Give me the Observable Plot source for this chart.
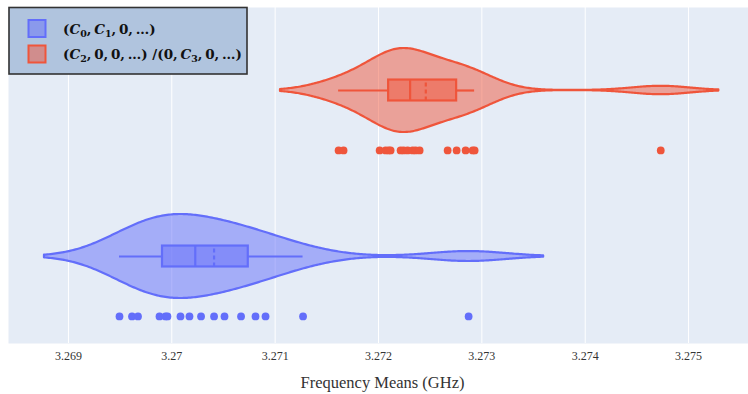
<!DOCTYPE html>
<html>
<head>
<meta charset="utf-8">
<script src="https://cdn.jsdelivr.net/npm/d3@7"></script>
<script src="https://cdn.jsdelivr.net/npm/@observablehq/plot@0.6"></script>
<style>
  html, body { margin: 0; padding: 0; background: #fff; }
  #chart svg { display: block; }
</style>
</head>
<body>
<div id="chart"></div>
<script>
// ---------- data ----------
const seriesNames = ["(C0,C1,0,...)", "(C2,0,0,...)/(0,C3,0,...)"];
const seriesColors = ["#636EFA", "#EF553B"];
const seriesPos = [0, 1];
const blueValues = [3.269494, 3.269615, 3.269673, 3.269881, 3.269939, 3.269958, 3.270084, 3.270171,
  3.270283, 3.270409, 3.270510, 3.270670, 3.270810, 3.270907, 3.271270, 3.272872];
const redValues = [3.271614, 3.271662, 3.272011, 3.272069, 3.272098, 3.272117, 3.272214, 3.272243,
  3.272282, 3.272330, 3.272359, 3.272398, 3.272669, 3.272756, 3.272843, 3.272911, 3.272930, 3.274731];
const tickValues = [3.269, 3.270, 3.271, 3.272, 3.273, 3.274, 3.275];
const xTitle = "Frequency Means (GHz)";

// ---------- statistics (plotly-like) ----------
function interp(arr, p) {
  let n = p * arr.length - 0.5;
  if (n < 0) return arr[0];
  if (n > arr.length - 1) return arr[arr.length - 1];
  const f = n % 1;
  return f * arr[Math.ceil(n)] + (1 - f) * arr[Math.floor(n)];
}
function stats(values) {
  const s = values.slice().sort((a, b) => a - b);
  const q1 = interp(s, 0.25), med = interp(s, 0.5), q3 = interp(s, 0.75);
  const iqr = q3 - q1;
  const lo = s.find(v => v >= q1 - 1.5 * iqr);
  const hi = s.filter(v => v <= q3 + 1.5 * iqr).pop();
  const mean = d3.mean(s);
  const sd = d3.deviation(s);
  const bw = 1.059 * Math.min(sd, iqr / 1.349) * Math.pow(s.length, -0.2);
  return {s, q1, med, q3, lo, hi, mean, bw, min: s[0], max: s[s.length - 1]};
}

const HALF = 0.253;   // violin half-width (y units)
const BOXH = 0.063;   // box half-height
const PTOFF = -0.361; // points offset
const allSeries = [blueValues, redValues];

const violinRows = [], boxRows = [], whiskerRows = [], pointRows = [];
allSeries.forEach((vals, k) => {
  const st = stats(vals);
  const bw = st.bw * 0.97;
  const a = st.min - 2 * bw, b = st.max + 2 * bw;
  const N = 300;
  const dens = [];
  for (let i = 0; i <= N; i++) {
    const x = a + (b - a) * i / N;
    let d = 0;
    for (const v of vals) { const u = (x - v) / bw; d += Math.exp(-0.5 * u * u); }
    dens.push({x, d});
  }
  const dmax = d3.max(dens, e => e.d);
  const c = seriesPos[k];
  dens.forEach(e => violinRows.push({k, x: e.x, y1: c - HALF * e.d / dmax, y2: c + HALF * e.d / dmax}));
  boxRows.push({k, c, ...st});
  whiskerRows.push({k, c, x1: st.lo, x2: st.q1});
  whiskerRows.push({k, c, x1: st.q3, x2: st.hi});
  vals.forEach(v => pointRows.push({k, x: v, y: c + PTOFF}));
});

const FONT = "'Liberation Serif', 'Times New Roman', serif";

const marks = [
  Plot.frame({fill: "#E5ECF6", stroke: null}),
  Plot.gridX(tickValues, {stroke: "white", strokeOpacity: 1, strokeWidth: 1}),
];
seriesColors.forEach((col, k) => {
  marks.push(
    Plot.areaY(violinRows.filter(d => d.k === k), {x: "x", y1: "y1", y2: "y2", fill: col, fillOpacity: 0.5, stroke: col, strokeWidth: 2.2, curve: "linear"}),
    Plot.rect(boxRows.filter(d => d.k === k), {x1: "q1", x2: "q3", y1: d => d.c - BOXH, y2: d => d.c + BOXH, fill: col, fillOpacity: 0.5, stroke: col, strokeWidth: 2.2}),
    Plot.ruleY(whiskerRows.filter(d => d.k === k), {y: "c", x1: "x1", x2: "x2", stroke: col, strokeWidth: 2.2}),
    Plot.ruleX(boxRows.filter(d => d.k === k), {x: "med", y1: d => d.c - BOXH, y2: d => d.c + BOXH, stroke: col, strokeWidth: 2.2}),
    Plot.ruleX(boxRows.filter(d => d.k === k), {x: "mean", y1: d => d.c - BOXH, y2: d => d.c + BOXH, stroke: col, strokeWidth: 2.2, strokeDasharray: "4,3"}),
    Plot.dot(pointRows.filter(d => d.k === k), {x: "x", y: "y", r: 3.9, fill: col, stroke: null})
  );
});
marks.push(
  Plot.axisX(tickValues, {tickSize: 0, tickPadding: 8, tickFormat: d => String(+d.toFixed(3)), fontSize: 12, fontFamily: FONT, fill: "#333", label: null}),
  Plot.text([xTitle], {frameAnchor: "bottom", dy: 39, dx: 4, fontSize: 16.5, fontFamily: FONT, fill: "#333", lineAnchor: "middle"})
);

const svg = Plot.plot({
  width: 748,
  height: 394,
  marginLeft: 8,
  marginRight: 0,
  marginTop: 7,
  marginBottom: 51,
  style: {background: "white", fontFamily: FONT},
  x: {domain: [3.26842, 3.27558], label: null},
  y: {domain: [-0.524, 1.5], axis: null},
  marks
});

// ---------- legend (drawn inside the plot area) ----------
const sv = d3.select(svg);
const lg = sv.append("g").attr("text-anchor", "start");
lg.append("rect").attr("x", 9).attr("y", 7.5).attr("width", 238).attr("height", 66.5)
  .attr("fill", "#B0C4DE").attr("stroke", "#333").attr("stroke-width", 1.6);
const TS = "\u2009";
const legendParts = [
  [["(", ""], ["C", "i"], ["0", "sub"], ["," + TS, ""], ["C", "i"], ["1", "sub"], ["," + TS + "0," + TS + "…)", ""]],
  [["(", ""], ["C", "i"], ["2", "sub"], ["," + TS + "0," + TS + "0," + TS + "…) /(0," + TS, ""], ["C", "i"], ["3", "sub"], ["," + TS + "0," + TS + "…)", ""]]
];
const rowY = [28.5, 54];
seriesColors.forEach((col, k) => {
  lg.append("rect").attr("x", 28.5).attr("y", rowY[k] - 8.5).attr("width", 17).attr("height", 17)
    .attr("fill", col).attr("fill-opacity", 0.5).attr("stroke", col).attr("stroke-width", 2);
  const t = lg.append("text").attr("x", 63).attr("y", rowY[k] + 5)
    .attr("text-anchor", "start")
    .attr("font-family", "'DejaVu Serif', serif").attr("font-weight", "bold")
    .attr("font-size", 13.5).attr("fill", "#111");
  let sub = false;
  legendParts[k].forEach(([s, style]) => {
    const ts = t.append("tspan").text(s);
    if (style === "i") ts.attr("font-style", "italic");
    if (style === "sub") { ts.attr("font-size", 9.5).attr("dy", 3); sub = true; }
    else if (sub) { ts.attr("dy", -3); sub = false; }
  });
});

document.getElementById("chart").appendChild(svg);
</script>
</body>
</html>
